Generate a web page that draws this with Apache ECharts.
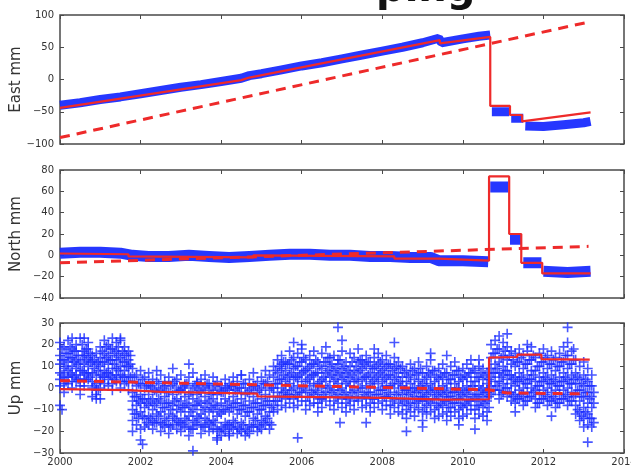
<!DOCTYPE html>
<html><head><meta charset="utf-8">
<script src="https://cdn.jsdelivr.net/npm/echarts@6/dist/echarts.min.js"></script>
<style>html,body{margin:0;padding:0;background:#fff}#c{width:631px;height:467px}</style>
</head><body><div id="c"></div>
<script>
// ---------- axis ticks ----------
const xTicks = [2000, 2002, 2004, 2006, 2008, 2010, 2012, 2014];
const eastTicks = [-100, -50, 0, 50, 100];
const northTicks = [-40, -20, 0, 20, 40, 60, 80];
const upTicks = [-30, -20, -10, 0, 10, 20, 30];
const panelNames = ['East mm', 'North mm', 'Up mm'];

// ---------- East (mm) ----------
const eastBlue = [[2000.0,-40],[2000.5,-36],[2001.0,-31],[2001.5,-27],[2002.0,-22],[2002.5,-17],[2003.0,-12],[2003.5,-8],[2004.0,-3],[2004.5,2],[2004.7,6],[2005.0,9],[2005.5,15],[2006.0,21],[2006.5,26],[2007.0,32],[2007.5,38],[2008.0,44],[2008.5,50],[2009.0,57],[2009.4,64],[2009.47,57],[2010.0,63],[2010.4,67],[2010.68,69],null,[2010.72,-50],[2011.15,-50],null,[2011.2,-60],[2011.5,-60],null,[2011.55,-72],[2012.0,-73],[2012.5,-70],[2013.0,-67],[2013.17,-65]];
const eastModel = [[2000,-44],[2004.5,-1],[2004.7,3],[2009.43,61],[2009.43,56],[2010.68,66],[2010.68,-41],[2011.17,-41],[2011.17,-55],[2011.47,-55],[2011.47,-65],[2013.17,-51]];
const eastTrend = [[2000,-90],[2013.12,89]];

// ---------- North (mm) ----------
const northBlue = [[2000.0,2],[2000.5,3],[2001.0,3],[2001.5,2],[2001.8,0],[2002.2,-1],[2002.7,-1],[2003.2,0],[2003.7,-1],[2004.2,-2],[2004.7,-1],[2005.2,0],[2005.7,1],[2006.2,1],[2006.7,0],[2007.2,0],[2007.7,-1],[2008.2,-1],[2008.7,-2],[2009.2,-2],[2009.4,-5],[2010.0,-5],[2010.63,-6],null,[2010.68,64],[2011.13,64],null,[2011.17,15],[2011.45,15],null,[2011.5,-7],[2011.95,-7],null,[2012.0,-15],[2012.6,-16],[2013.17,-15]];
const northModel = [[2000,1.7],[2001.7,1],[2001.7,-1],[2004.8,-2],[2004.8,0],[2008.3,-1],[2008.3,-3],[2009.4,-3],[2009.4,-4.5],[2010.65,-5],[2010.65,74],[2011.15,74],[2011.15,20],[2011.45,20],[2011.45,-7],[2011.97,-7],[2011.97,-17],[2013.17,-17]];
const northTrend = [[2000,-7],[2013.12,8.4]];

// ---------- Up (mm) : epochs every 0.1 yr from 2000.0 (rows R) and from 2000.05 (rows M) ----------
const upStart = 2000.0, upMidStart = 2000.05, upStep = 0.1;
const upR1 = [21,19,22,18,20,23,17,21,15,16,19,22,20,18,21,23,19, 17,9,6,8,5,
 7,4,8,6,3,5,9,4,6,2,5,7,3,4,6,2,5,3,1,4,2,5,3,6,2,4,7,3,5,8,6,
 10,13,15,12,17,14,16,18,13,15,17,12,16,19,14,15,13,17,12,16,14,18,13,15,12,14,16,13,15,11,14,12,
 10,8,11,9,12,7,10,13,8,9,11,7,10,12,8,9,11,13,8,10,9,7,
 20,22,18,21,19,17,16,18,15,17,19,14,16,18,15,17,14,16,19,15,17, 13,10,12,9,6];
const upR2 = [15,13,16,14,17,12,15,18,12,11,14,16,15,13,17,14,16, 13,3,1,2,0,
 2,0,3,-1,1,-2,2,0,-1,1,-3,0,2,-2,1,-1,0,-3,-2,0,-1,1,-2,0,-3,-1,1,-2,0,2,-1,
 5,7,9,8,11,9,10,12,8,10,11,7,9,12,10,8,11,9,7,10,8,12,9,10,7,9,11,8,10,6,9,7,
 5,3,6,4,7,2,5,6,3,4,5,2,4,6,3,4,5,7,3,5,4,2,
 14,16,12,15,13,11,10,12,9,11,13,8,10,12,9,11,8,10,12,9,11, 7,4,6,3,1];
const upR3 = [11,9,12,10,13,8,11,14,7,6,10,12,11,9,13,10,12, 10,-2,-4,-3,-5,
 -3,-5,-2,-6,-4,-7,-3,-5,-6,-4,-8,-5,-3,-7,-4,-6,-5,-8,-7,-5,-6,-4,-7,-5,-8,-6,-4,-7,-5,-3,-6,
 0,2,4,3,6,4,5,7,3,5,6,2,4,7,5,3,6,4,2,5,3,7,4,5,2,4,6,3,5,1,4,2,
 1,-1,2,0,3,-2,1,2,-1,0,1,-2,0,2,-1,0,1,3,-1,1,0,-2,
 9,11,7,10,8,6,5,7,4,6,8,3,5,7,4,6,3,5,7,4,6, 2,-1,1,-2,-4];
const upR4 = [7,5,8,6,9,4,7,10,3,2,6,8,7,5,9,6,8, 6,-6,-8,-7,-9,
 -8,-10,-7,-11,-9,-12,-8,-10,-11,-9,-13,-10,-8,-12,-9,-11,-10,-13,-12,-10,-11,-9,-12,-10,-13,-11,-9,-12,-10,-8,-11,
 -4,-2,0,-1,2,0,1,3,-1,1,2,-2,0,3,1,-1,2,0,-2,1,-1,3,0,1,-2,0,2,-1,1,-3,0,-2,
 -3,-5,-2,-4,-1,-6,-3,-2,-5,-4,-3,-6,-4,-2,-5,-4,-3,-1,-5,-3,-4,-6,
 5,7,3,6,4,2,1,3,0,2,4,-1,1,3,0,2,-1,1,3,0,2, -3,-6,-4,-7,-9];
const upR5 = [4,2,5,3,6,1,4,7,0,-1,3,5,4,2,6,3,5, 3,-10,-12,-11,-14,
 -13,-15,-12,-16,-14,-17,-13,-15,-16,-14,-18,-15,-13,-17,-14,-16,-15,-19,-18,-16,-17,-15,-18,-16,-19,-17,-14,-17,-15,-13,-16,
 -8,-6,-4,-5,-3,-5,-4,-2,-6,-4,-3,-7,-5,-2,-4,-6,-3,-5,-7,-4,-6,-2,-5,-4,-7,-5,-3,-6,-4,-8,-5,-7,
 -8,-10,-7,-9,-6,-11,-8,-7,-10,-9,-8,-11,-9,-7,-10,-9,-8,-6,-10,-8,-9,-11,
 1,3,-1,2,0,-2,-3,-1,-4,-2,0,-5,-3,-1,-4,-2,-5,-3,-1,-4,-2, -8,-11,-9,-12,-14];
const upR6 = [1,-2,2,0,3,-3,1,4,-4,-5,0,2,1,-1,3,0,2, -1,-15,-17,-19,-18,
 -17,-19,-16,-20,-18,-21,-17,-19,-20,-18,-22,-19,-17,-21,-18,-20,-19,-23,-22,-20,-21,-19,-21,-20,-22,-21,-18,-20,-19,-17,-19,
 -11,-10,-8,-9,-7,-9,-8,-6,-10,-8,-7,-11,-9,-6,-8,-10,-7,-9,-11,-8,-10,-6,-9,-8,-11,-9,-7,-10,-8,-12,-9,-11,
 -12,-14,-11,-13,-10,-15,-12,-11,-14,-13,-12,-15,-13,-11,-14,-13,-12,-10,-14,-12,-13,-15,
 -3,-1,-5,-2,-4,-6,-7,-5,-8,-6,-4,-9,-7,-5,-8,-6,-9,-7,-5,-8,-6, -12,-15,-14,-17,-18];
const upM1 = [18,16,19,17,15,20,18,16,13,12,17,19,18,16,19,17,15, 15,5,2,4,1,
 1,-1,2,0,-2,1,3,-1,0,2,-2,1,-1,0,2,-3,1,-1,-2,0,1,-1,0,2,-2,0,1,-1,2,3,0,
 8,10,12,11,13,10,12,14,9,11,13,10,12,14,11,9,13,10,8,12,10,13,11,12,9,10,12,9,11,8,10,9,
 7,5,8,6,9,4,7,8,5,6,7,4,6,8,5,6,7,9,5,7,6,4,
 16,18,14,17,15,13,12,14,11,13,15,10,12,14,11,13,10,12,15,11,13, 5,2,4,1,-2];
const upM2 = [13,10,14,12,11,15,13,12,9,8,12,14,13,11,15,12,10, 11,-4,-6,-5,-7,
 -6,-8,-5,-9,-7,-10,-6,-8,-9,-7,-11,-8,-6,-10,-7,-9,-8,-11,-10,-8,-9,-7,-10,-8,-11,-9,-7,-10,-8,-6,-9,
 2,4,6,5,7,5,6,8,4,6,7,3,5,8,6,4,7,5,3,6,4,8,5,6,3,5,7,4,6,2,5,3,
 -1,-3,0,-2,1,-4,-1,0,-3,-2,-1,-4,-2,0,-3,-2,-1,1,-3,-1,-2,-4,
 7,9,5,8,6,4,3,5,2,4,6,1,3,5,2,4,1,3,5,2,4, -1,-4,-2,-5,-7];
const upM3 = [6,3,7,5,4,8,6,5,1,-1,5,7,6,4,8,5,3, 5,-12,-14,-13,-16,
 -14,-16,-13,-17,-15,-18,-14,-16,-17,-15,-19,-16,-14,-18,-15,-17,-16,-20,-19,-17,-18,-16,-19,-17,-20,-18,-15,-18,-16,-14,-17,
 -6,-4,-2,-3,-1,-3,-2,0,-4,-2,-1,-5,-3,0,-2,-4,-1,-3,-5,-2,-4,0,-3,-2,-5,-3,-1,-4,-2,-6,-3,-5,
 -6,-8,-5,-7,-4,-9,-6,-5,-8,-7,-6,-9,-7,-5,-8,-7,-6,-4,-8,-6,-7,-9,
 -1,1,-3,0,-2,-4,-5,-3,-6,-4,-2,-7,-5,-3,-6,-4,-7,-5,-3,-6,-4, -10,-13,-11,-14,-16];
const upOutliers = [[2000.0,-8],[2000.05,-10],[2000.3,23],[2000.6,23],[2000.9,-3],[2001.0,-5],[2001.3,23],[2001.5,22],[2001.8,-20],[2002.0,-24],[2002.05,-26],[2003.2,11],[2003.3,-29],[2003.9,-24],[2004.2,-22],[2004.5,6],[2005.5,11],[2005.8,21],[2005.9,-23],[2006.0,20],[2006.9,28],[2006.95,-16],[2007.0,22],[2007.6,-16],[2007.8,18],[2008.3,21],[2008.6,-20],[2009.0,-18],[2009.2,16],[2009.6,15],[2009.9,-17],[2010.3,-19],[2010.4,13],[2010.9,24],[2011.1,25],[2011.3,-11],[2011.6,20],[2012.2,-13],[2012.6,28],[2012.6,21],[2012.75,18],[2013.1,-25],[2013.0,-18]];
const upModel = [[2000,-0.5],[2001.7,-1],[2001.7,-1.5],[2002.5,-1.8],[2004.9,-2.6],[2004.9,-3.9],[2008.0,-4.6],[2008.0,-5.1],[2009.5,-5.4],[2009.5,-4.8],[2010.65,-5.2],[2010.65,14],[2011.35,14.3],[2011.35,15.4],[2011.95,15.4],[2011.95,13.3],[2013.15,13.1]];
const upTrend = [[2000,3.4],[2010.65,-0.8],[2011.1,-2.3],[2013.1,-2.7]];

// ---------- build ----------
function segments(arr){ const out=[]; let cur=[]; arr.forEach(p=>{ if(p===null){ if(cur.length) out.push(cur); cur=[]; } else cur.push(p); }); if(cur.length) out.push(cur); return out; }
const upPoints = [];
[upR1,upR2,upR3,upR4,upR5,upR6].forEach(row => row.forEach((v,i)=>upPoints.push([+(upStart+upStep*i).toFixed(2), v])));
[upM1,upM2,upM3].forEach(row => row.forEach((v,i)=>upPoints.push([+(upMidStart+upStep*i).toFixed(2), v])));
upOutliers.forEach(p=>upPoints.push(p));

const BLUE = '#1a2cff', RED = '#ee2a2a', AX = '#4a4a4a', TXT = '#333';
const FONT = 'DejaVu Sans';
const minus = v => String(v).replace('-', '\u2212');
const grids = [ {top:15,height:129}, {top:170,height:128}, {top:323,height:130} ].map(g=>({left:60,right:7,top:g.top,height:g.height,show:true,borderColor:AX,borderWidth:1.5,backgroundColor:'#fff',containLabel:false,outerBoundsMode:'none'}));
const yRanges = [[eastTicks,50],[northTicks,20],[upTicks,10]];

const xAxis=[], yAxis=[];
const tick = {show:true,inside:true,length:4,lineStyle:{color:AX,width:1}};
for(let i=0;i<3;i++){
  xAxis.push({type:'value',gridIndex:i,min:xTicks[0],max:xTicks[xTicks.length-1],interval:2,position:'bottom',
    axisLine:{show:false,onZero:false},splitLine:{show:false},axisTick:tick,
    axisLabel:{show:i===2,color:TXT,fontSize:10,fontFamily:FONT,margin:4,formatter:v=>String(v),showMinLabel:true,showMaxLabel:true}});
  xAxis.push({type:'value',gridIndex:i,min:xTicks[0],max:xTicks[xTicks.length-1],interval:2,position:'top',
    axisLine:{show:false,onZero:false},splitLine:{show:false},axisTick:tick,axisLabel:{show:false}});
  const t=yRanges[i][0];
  yAxis.push({type:'value',gridIndex:i,min:t[0],max:t[t.length-1],interval:yRanges[i][1],position:'left',
    name:panelNames[i],nameLocation:'middle',nameGap:36,nameMoveOverlap:false,nameTextStyle:{fontSize:15,color:TXT,fontFamily:FONT},
    axisLine:{show:false,onZero:false},splitLine:{show:false},axisTick:tick,
    axisLabel:{color:TXT,fontSize:10,fontFamily:FONT,margin:6,formatter:minus,showMinLabel:true,showMaxLabel:true}});
  yAxis.push({type:'value',gridIndex:i,min:t[0],max:t[t.length-1],interval:yRanges[i][1],position:'right',
    axisLine:{show:false,onZero:false},splitLine:{show:false},axisTick:tick,axisLabel:{show:false}});
}
const series=[];
function band(data, idx, w){ segments(data).forEach(seg=>series.push({type:'line',xAxisIndex:idx*2,yAxisIndex:idx*2,data:seg,symbol:'none',lineStyle:{color:BLUE,width:w,opacity:0.95},z:2,silent:true})); }
function model(data, idx){ series.push({type:'line',xAxisIndex:idx*2,yAxisIndex:idx*2,data:data,symbol:'none',lineStyle:{color:RED,width:2.2},z:4,silent:true}); }
function trend(data, idx){ series.push({type:'line',xAxisIndex:idx*2,yAxisIndex:idx*2,data:data,symbol:'none',lineStyle:{color:RED,width:3,type:[10,7]},z:5,silent:true}); }
band(eastBlue,0,9); model(eastModel,0); trend(eastTrend,0);
band(northBlue,1,11); model(northModel,1); trend(northTrend,1);
series.push({type:'scatter',xAxisIndex:4,yAxisIndex:4,data:upPoints,symbol:'path://M4.2,0H5.8V4.2H10V5.8H5.8V10H4.2V5.8H0V4.2H4.2Z',symbolSize:10,itemStyle:{color:BLUE,opacity:0.8},z:2,silent:true,large:false});
model(upModel,2); trend(upTrend,2);

const chart = echarts.init(document.getElementById('c'), null, {renderer:'canvas'});
chart.setOption({animation:false,backgroundColor:'#fff',grid:grids,xAxis,yAxis,series,
  graphic:[{type:'text',left:376,top:-29,style:{text:'ping',font:'bold 40px "DejaVu Sans"',fill:'#111'}}]});
</script></body></html>
